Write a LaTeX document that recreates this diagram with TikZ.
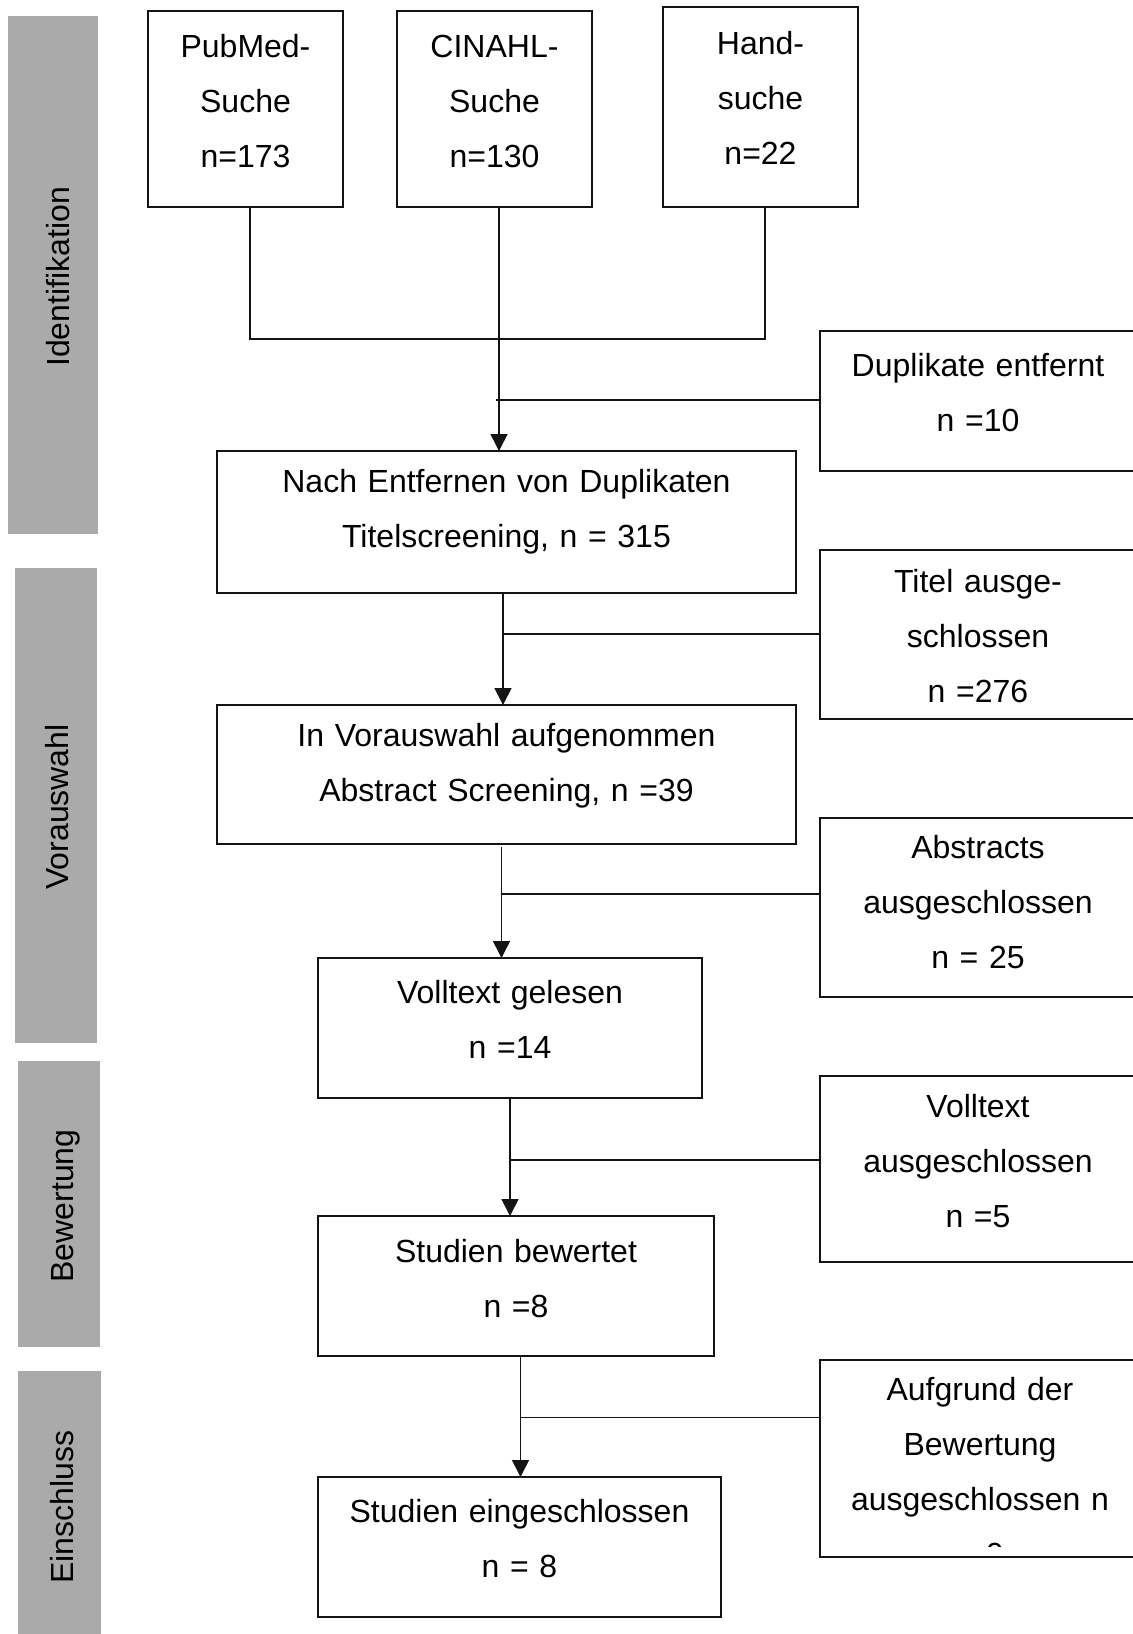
\documentclass[tikz,border=0pt]{standalone}
\usepackage{fontspec}
\setmainfont{Liberation Sans}
\usetikzlibrary{arrows.meta}
\definecolor{barGray}{RGB}{170,170,170}
\definecolor{lineCol}{RGB}{20,20,20}
\begin{document}
\begin{tikzpicture}[x=1pt,y=-1pt,
  box/.style={draw=lineCol, line width=1.4pt, rectangle, inner sep=0pt, outer sep=0pt, anchor=north west},
  txt/.style={font=\fontsize{32}{55}\selectfont, text width=560pt, align=center, anchor=base, inner sep=0pt, outer sep=0pt},
  bar/.style={fill=barGray, draw=none, rectangle, anchor=north west, inner sep=0pt, outer sep=0pt},
  bartxt/.style={font=\fontsize{32}{38}\selectfont, rotate=90, anchor=base, inner sep=0pt},
  conn/.style={draw=lineCol, line width=1.6pt},
  arr/.style={conn, -{Triangle[length=17pt,width=17pt]}}]
\useasboundingbox (0,0) rectangle (1133,1634);
\clip (0,0) rectangle (1133,1634);

% side bars
\node[bar, minimum width=90pt, minimum height=518pt] (bar1) at (8,16) {};
\node[bar, minimum width=82pt, minimum height=475pt] (bar2) at (15,568) {};
\node[bar, minimum width=82pt, minimum height=286pt] (bar3) at (18,1061) {};
\node[bar, minimum width=83pt, minimum height=270pt] (bar4) at (18,1371) {};
\node[bartxt] (bar1t) at (69,277) {Identifikation};
\node[bartxt] (bar2t) at (68,807) {Vorauswahl};
\node[bartxt] (bar3t) at (73,1206) {Bewertung};
\node[bartxt] (bar4t) at (73,1507) {Einschluss};

% boxes
\node[box, minimum width=195pt, minimum height=196pt] (pubmed) at (148,11) {};
\node[box, minimum width=195pt, minimum height=196pt] (cinahl) at (397,11) {};
\node[box, minimum width=195pt, minimum height=200pt] (hand) at (663,7) {};
\node[box, minimum width=317pt, minimum height=140pt] (dup) at (820,331) {};
\node[box, minimum width=579pt, minimum height=142pt] (nach) at (217,451) {};
\node[box, minimum width=317pt, minimum height=169pt] (titel) at (820,550) {};
\node[box, minimum width=579pt, minimum height=139pt] (vor) at (217,705) {};
\node[box, minimum width=317pt, minimum height=179pt] (abs) at (820,818) {};
\node[box, minimum width=384pt, minimum height=140pt] (voll) at (318,958) {};
\node[box, minimum width=317pt, minimum height=186pt] (vollaus) at (820,1076) {};
\node[box, minimum width=396pt, minimum height=140pt] (bew) at (318,1216) {};
\node[box, minimum width=317pt, minimum height=197pt] (aufg) at (820,1360) {};
\node[box, minimum width=403pt, minimum height=140pt] (ein) at (318,1477) {};

% texts
\node[txt] (pubmedt) at (245.5,57) {PubMed-\\Suche\\n=173};
\node[txt] (cinahlt) at (494.5,57) {CINAHL-\\Suche\\n=130};
\node[txt] (handt) at (760.5,54) {Hand-\\suche\\n=22};
\node[txt] (dupt) at (978,376) {Duplikate entfernt\\n =10};
\node[txt] (nacht) at (506.5,492) {Nach Entfernen von Duplikaten\\Titelscreening, n = 315};
\node[txt] (titelt) at (978,592) {Titel ausge-\\schlossen\\n =276};
\node[txt] (vort) at (506.5,746) {In Vorauswahl aufgenommen\\Abstract Screening, n =39};
\node[txt] (abst) at (978,858) {Abstracts\\ausgeschlossen\\n = 25};
\node[txt] (vollt) at (510,1003) {Volltext gelesen\\n =14};
\node[txt] (vollaust) at (978,1117) {Volltext\\ausgeschlossen\\n =5};
\node[txt] (bewt) at (516,1262) {Studien bewertet\\n =8};
\begin{scope}
\clip (820,1360) rectangle (1136,1546);
\node[txt] (aufgt) at (980,1400) {Aufgrund der\\Bewertung\\ausgeschlossen n\\= 0};
\end{scope}
\node[txt] (eint) at (519.5,1522) {Studien eingeschlossen\\n = 8};

% connectors
\coordinate (jL) at (250,339);
\coordinate (jR) at (765,339);
\draw[conn] (pubmed.south -| jL) -- (jL) -- (jR) -- (hand.south -| jR);
\coordinate (jC) at (499,400);
\coordinate (jDup) at (496,400);
\draw[arr] (cinahl.south -| jC) -- (nach.north -| jC);
\draw[conn] (dup.west |- jDup) -- (jDup);

\coordinate (j2) at (503,634);
\draw[arr] (nach.south -| j2) -- (vor.north -| j2);
\draw[conn] (titel.west |- j2) -- (j2);

\coordinate (s3) at (501.5,847);
\coordinate (j3) at (501.5,894);
\draw[arr] (s3) -- (voll.north -| s3);
\draw[conn] (abs.west |- j3) -- (j3);

\coordinate (j4) at (510,1160);
\draw[arr] (voll.south -| j4) -- (bew.north -| j4);
\draw[conn] (vollaus.west |- j4) -- (j4);

\coordinate (j5) at (520.5,1417.5);
\draw[arr] (bew.south -| j5) -- (ein.north -| j5);
\draw[conn] (aufg.west |- j5) -- (j5);
\end{tikzpicture}
\end{document}
